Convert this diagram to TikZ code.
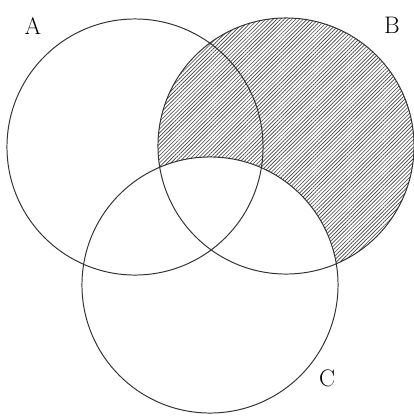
\documentclass[tikz,border=0pt]{standalone}
\usetikzlibrary{patterns.meta}
\newcommand\vennrad{3.2cm}
\tikzset{
  venn/.style={line width=0.7pt,black!80},
  hatch/.style={pattern={Lines[angle=45,distance=1.9pt,line width=0.45pt]},pattern color=black!75},
  setlabel/.style={font=\fontsize{17}{20}\selectfont,inner sep=0pt}
}
\begin{document}
\begin{tikzpicture}[x=0.025cm,y=-0.025cm]
  \useasboundingbox (0,0) rectangle (414,417);
  \coordinate (cA) at (135,147);
  \coordinate (cB) at (286,146);
  \coordinate (cC) at (210,285);
  % B without C
  \begin{scope}
    \clip (cB) circle (\vennrad);
    \fill[hatch,even odd rule] (0,0) rectangle (414,417) (cC) circle (\vennrad);
  \end{scope}
  \draw[venn] (cA) circle (\vennrad);
  \draw[venn] (cB) circle (\vennrad);
  \draw[venn] (cC) circle (\vennrad);
  \node[setlabel] (labA) at (33,26) {A};
  \node[setlabel] (labB) at (392,25) {B};
  \node[setlabel] (labC) at (327,378) {C};
\end{tikzpicture}
\end{document}
